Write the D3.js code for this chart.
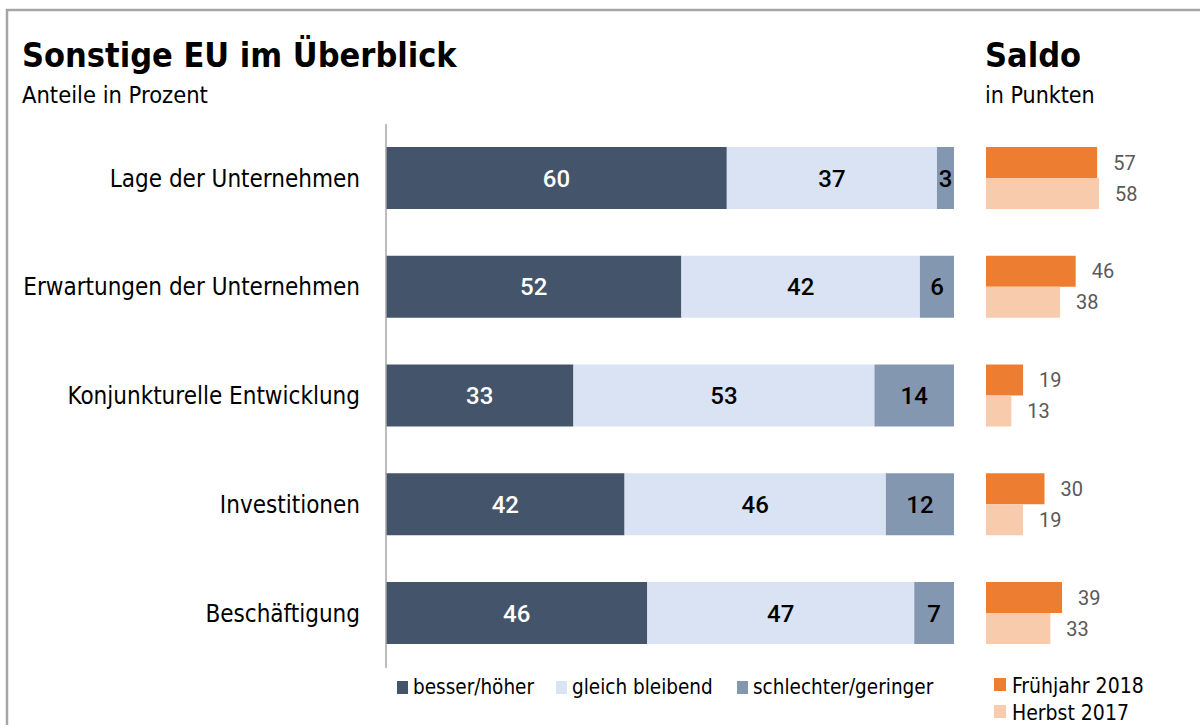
<html>
<head>
<meta charset="utf-8" />
<title>Sonstige EU im Überblick</title>
<script src="https://cdn.jsdelivr.net/npm/d3@7"></script>
<style>
	body { margin: 0; background: #fff; }
	text { font-family: "DejaVu Sans Condensed", "DejaVu Sans", sans-serif; }
	.num { font-family: Roboto, sans-serif; }
</style>
</head>
<body>
<script>
	// data
	var categories = ["Lage der Unternehmen", "Erwartungen der Unternehmen", "Konjunkturelle Entwicklung", "Investitionen", "Beschäftigung"];
	var besser = [60, 52, 33, 42, 46];
	var gleich = [37, 42, 53, 46, 47];
	var schlechter = [3, 6, 14, 12, 7];
	var saldoFrueh2018 = [57, 46, 19, 30, 39];
	var saldoHerbst2017 = [58, 38, 13, 19, 33];
	var seriesNames = ["besser/höher", "gleich bleibend", "schlechter/geringer"];
	var saldoNames = ["Frühjahr 2018", "Herbst 2017"];

	var width = 1200, height = 725;
	var colors = ["#44546a", "#dae3f3", "#8497b0"];
	var textColors = ["#fff", "#000", "#000"];
	var saldoColors = ["#ed7d31", "#f8cbad"];

	var svg = d3.select("body").append("svg")
		.attr("width", width)
		.attr("height", height);

	// frame
	svg.append("path")
		.attr("d", "M7,725 V10 H1200")
		.attr("fill", "none")
		.attr("stroke", "#a6a6a6")
		.attr("stroke-width", 2.5);

	svg.append("text").attr("x", 22).attr("y", 67)
		.attr("font-size", "34px").attr("font-weight", "bold")
		.text("Sonstige EU im Überblick");
	svg.append("text").attr("x", 22).attr("y", 103)
		.attr("font-size", "23.5px")
		.text("Anteile in Prozent");
	svg.append("text").attr("x", 985).attr("y", 67)
		.attr("font-size", "34px").attr("font-weight", "bold")
		.text("Saldo");
	svg.append("text").attr("x", 985).attr("y", 103)
		.attr("font-size", "23px")
		.text("in Punkten");

	var x = d3.scaleLinear().domain([0, 100]).range([386, 954]);
	var y = d3.scaleBand().domain(categories).range([122, 669]).paddingInner(0.43).paddingOuter(0.23);
	var xs = d3.scaleLinear().domain([0, 100]).range([986, 1181]);

	var rows = categories.map(function(c, i) {
		return {cat: c, vals: [besser[i], gleich[i], schlechter[i]], saldo: [saldoFrueh2018[i], saldoHerbst2017[i]]};
	});

	var g = svg.append("g");
	rows.forEach(function(r) {
		var acc = 0;
		r.vals.forEach(function(v, j) {
			g.append("rect")
				.attr("x", x(acc)).attr("y", y(r.cat))
				.attr("width", x(acc + v) - x(acc)).attr("height", y.bandwidth())
				.attr("fill", colors[j]);
			g.append("text").attr("class", "num")
				.attr("x", (x(acc) + x(acc + v)) / 2)
				.attr("y", y(r.cat) + y.bandwidth() / 2)
				.attr("dy", "0.36em")
				.attr("text-anchor", "middle")
				.attr("font-size", "24px").attr("font-weight", 500)
				.attr("fill", textColors[j])
				.text(v);
			acc += v;
		});
		// category label
		g.append("text")
			.attr("x", 360).attr("y", y(r.cat) + y.bandwidth() / 2)
			.attr("dy", "0.36em")
			.attr("text-anchor", "end")
			.attr("font-size", "24px")
			.text(r.cat);
		// saldo
		var h = y.bandwidth() / 2;
		r.saldo.forEach(function(v, j) {
			g.append("rect")
				.attr("x", xs(0)).attr("y", y(r.cat) + j * h)
				.attr("width", xs(v) - xs(0)).attr("height", h)
				.attr("fill", saldoColors[j]);
			g.append("text").attr("class", "num")
				.attr("x", xs(v) + 16).attr("y", y(r.cat) + j * h + h / 2)
				.attr("dy", "0.36em")
				.attr("font-size", "20px")
				.attr("fill", "#595959")
				.text(v);
		});
	});

	// axis line
	svg.append("line")
		.attr("x1", x(0)).attr("x2", x(0))
		.attr("y1", 124).attr("y2", 668)
		.attr("stroke", "#a6a6a6").attr("stroke-width", 1.5);

	// legend
	var legX = [397, 556, 737];
	seriesNames.forEach(function(n, i) {
		svg.append("rect").attr("x", legX[i]).attr("y", 681).attr("width", 11).attr("height", 13).attr("fill", colors[i]);
		svg.append("text").attr("x", legX[i] + 16).attr("y", 694)
			.attr("font-size", "20.5px").text(n);
	});
	saldoNames.forEach(function(n, i) {
		svg.append("rect").attr("x", 994).attr("y", 678 + i * 27).attr("width", 12).attr("height", 13).attr("fill", saldoColors[i]);
		svg.append("text").attr("x", 1012).attr("y", 693 + i * 27)
			.attr("font-size", "21px").text(n);
	});
</script>
</body>
</html>
